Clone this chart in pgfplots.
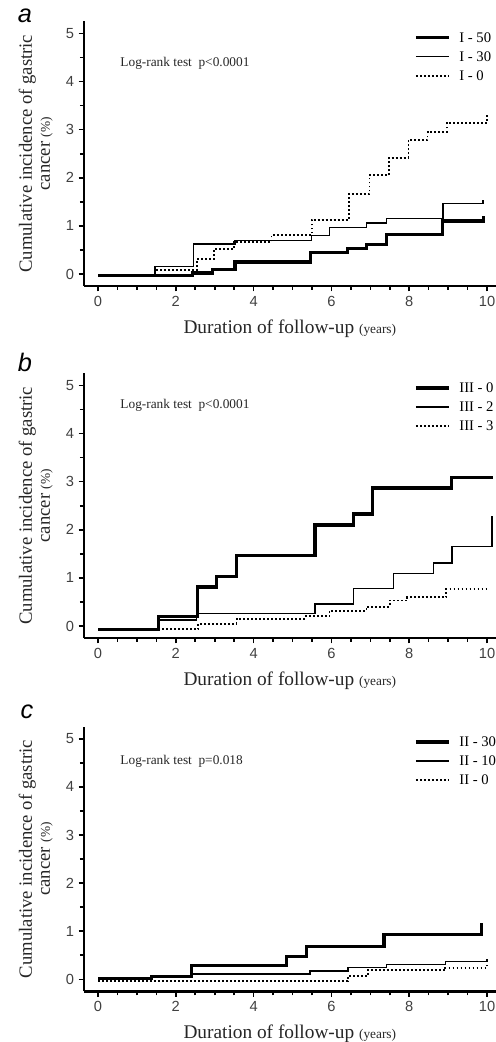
\documentclass[border=0pt]{standalone}
\usepackage{fontspec}
\setmainfont{Liberation Serif}
\newfontfamily\hv{Liberation Sans}
\usepackage{pgfplots}
\pgfplotsset{compat=1.18}

\tikzset{lr/.style={anchor=west, inner sep=0pt, font=\fontsize{10}{12}\selectfont, text=black!85}}
\pgfplotsset{
  km/.style={
    scale only axis, width=308.7pt, height=198.4pt,
    xmin=-0.36, xmax=10.22, ymin=-0.25, ymax=5.25,
    axis lines*=left,
    axis line style={line width=1.9pt, -},
    xtick={0,2,...,10}, ytick={0,1,...,5},
    minor x tick num=3, minor y tick num=1,
    tick align=outside, tick style={line width=1.2pt, black},
    major tick length=4pt, minor tick length=3pt,
    tick label style={font=\hv\fontsize{11}{12}\selectfont, text=black!75},
    /pgf/number format/assume math mode=true,
    xlabel={Duration of follow-up {\fontsize{10}{12}\selectfont(years)}},
    xlabel style={at={(axis description cs:0.5,-0.16)}, anchor=center,
      font=\fontsize{14.5}{16}\selectfont, text=black!85},
    ylabel={Cumulative incidence of gastric\\cancer {\fontsize{10}{12}\selectfont(\%)}},
    ylabel style={at={(axis description cs:-0.117,0.5)}, anchor=center, align=center,
      font=\fontsize{14}{13.5}\selectfont, text=black!85},
    legend style={draw=none, fill=none, anchor=north west, inner sep=0pt,
      font=\fontsize{11}{12}\selectfont, row sep=4.3pt, cells={anchor=west},
      nodes={inner sep=0.5pt, text height=8pt, text depth=1pt},
      /tikz/every odd column/.append style={column sep=6pt}},
    legend image code/.code={\draw[#1] (0pt,0pt) -- (25pt,0pt);},
    clip=false,
  },
  s1/.style={black, line width=2.4pt, const plot},
  s2/.style={black, line width=1.1pt, const plot},
  s3/.style={black, line width=1.4pt, dash pattern=on 1.4pt off 1.6pt, const plot},
}

\begin{document}
\begin{tikzpicture}

% panel a
\begin{axis}[km, at={(63pt,567pt)}, anchor=south west,
  legend style={at={(axis cs:8.12,5.06)}}]
\addplot[s1] coordinates {(0,-0.04)(2.43,0.02)(2.95,0.09)(3.52,0.25)(5.47,0.45)(6.42,0.53)(6.9,0.61)(7.42,0.82)(8.85,1.1)(9.9,1.2)};
\addlegendentry{I - 50}
\addplot[s2] coordinates {(0,-0.04)(1.47,0.15)(2.45,0.62)(3.52,0.7)(5.49,0.8)(5.95,0.97)(6.9,1.06)(7.42,1.15)(8.87,1.46)(9.9,1.53)};
\addlegendentry{I - 30}
\addplot[s3] coordinates {(0,-0.04)(1.47,0.08)(2.54,0.31)(2.98,0.52)(3.5,0.66)(4.46,0.81)(5.49,1.13)(6.45,1.67)(6.98,2.05)(7.49,2.42)(7.98,2.78)(8.47,2.95)(8.96,3.14)(10.0,3.3)};
\addlegendentry{I - 0}
\node[lr] at (axis cs:0.57,4.37) {Log-rank test\ \ p<0.0001};
\end{axis}

% panel b
\begin{axis}[km, at={(63pt,303pt)}, anchor=south west,
  legend style={at={(axis cs:8.12,5.09)}}]
\addplot[s1] coordinates {(0,-0.07)(1.55,0.19)(2.55,0.81)(3.05,1.03)(3.56,1.47)(5.58,2.1)(6.57,2.33)(7.06,2.87)(9.08,3.08)(10.15,3.08)};
\addlegendentry{III - 0}
\addplot[s2] coordinates {(0,-0.07)(1.55,0.12)(2.53,0.26)(5.58,0.46)(6.57,0.78)(7.6,1.09)(8.63,1.31)(9.1,1.65)(10.13,2.28)};
\addlegendentry{III - 2}
\addplot[s3] coordinates {(0,-0.07)(2.58,0.05)(3.56,0.15)(5.3,0.2)(5.95,0.32)(6.9,0.4)(7.5,0.53)(7.95,0.6)(8.95,0.77)(10.05,0.77)};
\addlegendentry{III - 3}
\node[lr] at (axis cs:0.57,4.58) {Log-rank test\ \ p<0.0001};
\end{axis}

% panel c
\begin{axis}[km, at={(63pt,38pt)}, anchor=south west,
  legend style={at={(axis cs:8.12,5.08)}}]
\addplot[s1] coordinates {(0,0.01)(1.38,0.06)(2.41,0.29)(4.85,0.47)(5.36,0.68)(7.35,0.93)(9.86,1.18)};
\addlegendentry{II - 30}
\addplot[s2] coordinates {(0,0.0)(1.4,0.05)(2.41,0.11)(5.45,0.17)(6.42,0.24)(7.42,0.31)(8.93,0.37)(10.0,0.42)};
\addlegendentry{II - 10}
\addplot[s3] coordinates {(0,-0.04)(6.42,0.06)(6.93,0.19)(8.93,0.24)(10.0,0.3)};
\addlegendentry{II - 0}
\node[lr] at (axis cs:0.57,4.53) {Log-rank test\ \ p=0.018};
\end{axis}

\node[font=\hv\itshape\fontsize{19}{20}\selectfont] at (18.75pt,770pt) {a};
\node[font=\hv\itshape\fontsize{19}{20}\selectfont] at (18.75pt,510pt) {b};
\node[font=\hv\itshape\fontsize{19}{20}\selectfont] at (20.25pt,247.5pt) {c};

\pgfresetboundingbox
\useasboundingbox (0,0) rectangle (372pt,781.5pt);
\end{tikzpicture}
\end{document}
